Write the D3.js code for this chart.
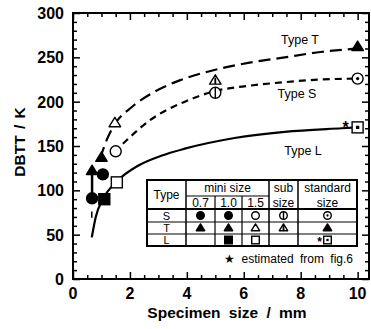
<!DOCTYPE html>
<html lang="en">
<head>
<meta charset="UTF-8">
<title>DBTT vs specimen size</title>
<style>
  body { margin: 0; background: #fff; }
  svg { display: block; font-family: "Liberation Sans", Arial, sans-serif; }
  .frame { fill: none; stroke: #000; stroke-width: 2; }
  .tick line { stroke: #000; stroke-width: 1.5; }
  .curve { fill: none; stroke: #000; stroke-width: 2.2; }
  .lg text { font-size: 12px; }
  .lg text.row { font-size: 11px; }
</style>
</head>
<body>
<svg width="371" height="329"></svg>
<script src="https://d3js.org/d3.v7.min.js"></script>
<script>
// data points
const sxS = [0.67, 1.05, 1.5, 5.0, 10];
const syS = [91, 118, 144, 210, 226];
const kindS = ["fill", "fill", "open", "sub", "std"];

const sxT = [0.67, 1.0, 1.47, 5.0, 10];
const syT = [122, 137, 176, 224, 262];
const kindT = ["fill", "fill", "open", "sub", "fill"];

const sxL = [1.1, 1.54, 10];
const syL = [90, 109, 171];
const kindL = ["fill", "open", "std"];

// fitted curves (traced)
const cxT = [0.95, 1.2, 1.5, 2.07, 2.8, 3.75, 5, 6.2, 7.44, 8.7, 10];
const cyT = [136, 158, 176, 194, 210, 224, 236, 244, 250, 256, 260];
const cxS = [1.45, 2.0, 2.7, 3.93, 5, 6.2, 7.44, 8.7, 10];
const cyS = [143, 160, 179, 200, 212, 218, 222, 225, 226];
const cxL = [0.66, 0.8, 1.05, 1.54, 2.3, 3.1, 3.93, 5.68, 7.44, 9.44, 10];
const cyL = [47, 70, 90, 110, 128, 139, 147, 159, 166, 170, 171];

const xTicks = [0, 2, 4, 6, 8, 10];
const yTicks = [0, 50, 100, 150, 200, 250, 300];

const svg = d3.select("svg");
const x = d3.scaleLinear().domain([0, 10.4]).range([73, 369]);
const y = d3.scaleLinear().domain([0, 300]).range([279, 13]);

// axes: ticks point inward on all four sides
const gx = svg.append("g").attr("transform", "translate(0,279)")
  .call(d3.axisTop(x).tickValues(d3.range(0, 10.01, 0.5)).tickSize(4).tickFormat("").tickSizeOuter(0));
gx.selectAll(".tick line").attr("y2", d => d % 2 === 0 ? -7 : -4);
const gxt = svg.append("g").attr("transform", "translate(0,13)")
  .call(d3.axisBottom(x).tickValues(d3.range(0, 10.01, 0.5)).tickSize(4).tickFormat("").tickSizeOuter(0));
gxt.selectAll(".tick line").attr("y2", d => d % 2 === 0 ? 7 : 4);
const gy = svg.append("g").attr("transform", "translate(73,0)")
  .call(d3.axisRight(y).tickValues(d3.range(0, 301, 10)).tickSize(4).tickFormat("").tickSizeOuter(0));
gy.selectAll(".tick line").attr("x2", d => d % 50 === 0 ? 7 : 4);
const gyr = svg.append("g").attr("transform", "translate(369,0)")
  .call(d3.axisLeft(y).tickValues(d3.range(0, 301, 10)).tickSize(4).tickFormat("").tickSizeOuter(0));
gyr.selectAll(".tick line").attr("x2", d => d % 50 === 0 ? -7 : -4);
svg.selectAll(".domain").remove();

svg.append("rect").attr("class", "frame")
  .attr("x", 73).attr("y", 13).attr("width", 296).attr("height", 266);

// tick labels
svg.append("g").selectAll("text").data(xTicks).join("text")
  .attr("x", d => x(d)).attr("y", 299).attr("text-anchor", "middle")
  .attr("font-size", 16).attr("font-weight", "bold").text(d => d);
svg.append("g").selectAll("text").data(yTicks).join("text")
  .attr("x", 64).attr("y", d => y(d) + 6).attr("text-anchor", "end")
  .attr("font-size", 16).attr("font-weight", "bold").text(d => d);

svg.append("text").attr("x", 227).attr("y", 318).attr("text-anchor", "middle")
  .attr("font-size", 15.5).attr("font-weight", "bold").attr("word-spacing", 4)
  .text("Specimen size / mm");
svg.append("text").attr("transform", "translate(25,142) rotate(-90)").attr("text-anchor", "middle")
  .attr("font-size", 15.5).attr("font-weight", "bold").attr("word-spacing", 2)
  .text("DBTT / K");

// curves
const line = d3.line().x(d => x(d[0])).y(d => y(d[1])).curve(d3.curveMonotoneX);
svg.append("path").attr("class", "curve").attr("stroke-dasharray", "12,6")
  .attr("d", line(d3.zip(cxT, cyT)));
svg.append("path").attr("class", "curve").attr("stroke-dasharray", "7,5")
  .attr("d", line(d3.zip(cxS, cyS)));
svg.append("path").attr("class", "curve")
  .attr("d", line(d3.zip(cxL, cyL)));

// curve labels
svg.append("text").attr("x", 300).attr("y", 44).attr("text-anchor", "middle").attr("font-size", 12.5).text("Type T");
svg.append("text").attr("x", 297).attr("y", 98).attr("text-anchor", "middle").attr("font-size", 12.5).text("Type S");
svg.append("text").attr("x", 303).attr("y", 155).attr("text-anchor", "middle").attr("font-size", 12.5).text("Type L");

// arrow stem at 0.7 mm and small mark
svg.append("line").attr("x1", x(0.67)).attr("x2", x(0.67)).attr("y1", y(95)).attr("y2", y(118))
  .attr("stroke", "#000").attr("stroke-width", 2.5);
svg.append("line").attr("x1", x(0.66)).attr("x2", x(0.66)).attr("y1", y(69)).attr("y2", y(76))
  .attr("stroke", "#000").attr("stroke-width", 1.5);

// marker drawing
function marker(g, shape, kind, cx, cy, r) {
  const sw = 1.4;
  if (shape === "circle") {
    g.append("circle").attr("cx", cx).attr("cy", cy).attr("r", r)
      .attr("fill", kind === "fill" ? "#000" : "#fff").attr("stroke", "#000").attr("stroke-width", sw);
    if (kind === "sub") g.append("line").attr("x1", cx).attr("x2", cx).attr("y1", cy - r).attr("y2", cy + r)
      .attr("stroke", "#000").attr("stroke-width", sw);
    if (kind === "std") g.append("circle").attr("cx", cx).attr("cy", cy).attr("r", r * 0.3).attr("fill", "#000");
  } else if (shape === "tri") {
    const h = r * 1.8, w = r * 1.1;
    g.append("path").attr("d", `M${cx},${cy - h * 0.6}L${cx + w},${cy + h * 0.4}L${cx - w},${cy + h * 0.4}Z`)
      .attr("fill", kind === "fill" ? "#000" : "#fff").attr("stroke", "#000").attr("stroke-width", sw)
      .attr("stroke-linejoin", "round");
    if (kind === "sub") g.append("line").attr("x1", cx).attr("x2", cx).attr("y1", cy - h * 0.3).attr("y2", cy + h * 0.4)
      .attr("stroke", "#000").attr("stroke-width", sw * 1.3);
  } else {
    g.append("rect").attr("x", cx - r).attr("y", cy - r).attr("width", 2 * r).attr("height", 2 * r)
      .attr("fill", kind === "fill" ? "#000" : "#fff").attr("stroke", "#000").attr("stroke-width", sw);
    if (kind === "std") g.append("rect").attr("x", cx - r * 0.3).attr("y", cy - r * 0.3)
      .attr("width", r * 0.6).attr("height", r * 0.6).attr("fill", "#000");
  }
}

const pts = svg.append("g");
sxS.forEach((v, i) => marker(pts, "circle", kindS[i], x(v), y(syS[i]), 5.5));
sxT.forEach((v, i) => marker(pts, "tri", kindT[i], x(v), y(syT[i]), 5.2));
sxL.forEach((v, i) => marker(pts, "square", kindL[i], x(v), y(syL[i]), 5.5));
svg.append("text").attr("x", x(10) - 12).attr("y", y(171) + 6).attr("text-anchor", "middle")
  .attr("font-size", 16).attr("font-weight", "bold").text("*");

// legend table
const lg = svg.append("g").attr("class", "lg");
const colX = [147, 186, 215, 242, 269, 298, 357];
const rowY = [180, 196, 209, 222, 234, 246];
lg.append("rect").attr("x", colX[0]).attr("y", rowY[0]).attr("width", colX[6] - colX[0])
  .attr("height", rowY[5] - rowY[0]).attr("fill", "#fff").attr("stroke", "#000").attr("stroke-width", 2);
const hl = (x1, x2, yy, w) => lg.append("line").attr("x1", x1).attr("x2", x2).attr("y1", yy).attr("y2", yy)
  .attr("stroke", "#000").attr("stroke-width", w);
const vl = (xx, y1, y2, w) => lg.append("line").attr("x1", xx).attr("x2", xx).attr("y1", y1).attr("y2", y2)
  .attr("stroke", "#000").attr("stroke-width", w);
hl(colX[1], colX[4], rowY[1], 1.2);
hl(colX[0], colX[6], rowY[2], 2);
hl(colX[0], colX[6], rowY[3], 1.2);
hl(colX[0], colX[6], rowY[4], 1.2);
vl(colX[1], rowY[0], rowY[5], 1.5);
vl(colX[2], rowY[1], rowY[5], 1.2);
vl(colX[3], rowY[1], rowY[5], 1.2);
vl(colX[4], rowY[0], rowY[5], 1.5);
vl(colX[5], rowY[0], rowY[5], 1.5);

const mid = (a, b) => (a + b) / 2;
const t = (tx, ty, s) => lg.append("text").attr("x", tx).attr("y", ty + 4.2).attr("text-anchor", "middle").text(s);
const typeNames = ["S", "T", "L"];
const sizeLabels = ["0.7", "1.0", "1.5"];
t(mid(colX[0], colX[1]), mid(rowY[0], rowY[2]), "Type");
t(mid(colX[1], colX[4]), mid(rowY[0], rowY[1]), "mini size");
sizeLabels.forEach((s, i) => t(mid(colX[i + 1], colX[i + 2]), mid(rowY[1], rowY[2]), s));
t(mid(colX[4], colX[5]), mid(rowY[0], rowY[1]), "sub");
t(mid(colX[4], colX[5]), mid(rowY[1], rowY[2]), "size");
t(mid(colX[5], colX[6]), mid(rowY[0], rowY[1]), "standard");
t(mid(colX[5], colX[6]), mid(rowY[1], rowY[2]), "size");
typeNames.forEach((s, i) => t(mid(colX[0], colX[1]), mid(rowY[i + 2], rowY[i + 3]), s).attr("class", "row"));

const shapes = ["circle", "tri", "square"];
const legKinds = [
  ["fill", "fill", "open", "sub", "std"],
  ["fill", "fill", "open", "sub", "fill"],
  [null, "fill", "open", null, "std"]
];
legKinds.forEach((row, ri) => row.forEach((k, ci) => {
  if (!k) return;
  const cx = mid(colX[ci + 1], colX[ci + 2]);
  const cy = mid(rowY[ri + 2], rowY[ri + 3]);
  marker(lg, shapes[ri], k, cx, cy, 3.8);
}));
lg.append("text").attr("x", mid(colX[5], colX[6]) - 8).attr("y", mid(rowY[4], rowY[5]) + 6)
  .attr("text-anchor", "middle").attr("font-size", 14).attr("font-weight", "bold").text("*");
lg.append("text").attr("x", 353).attr("y", 263).attr("text-anchor", "end").attr("word-spacing", 3)
  .text("\u2605 estimated from fig.6");
</script>
</body>
</html>
